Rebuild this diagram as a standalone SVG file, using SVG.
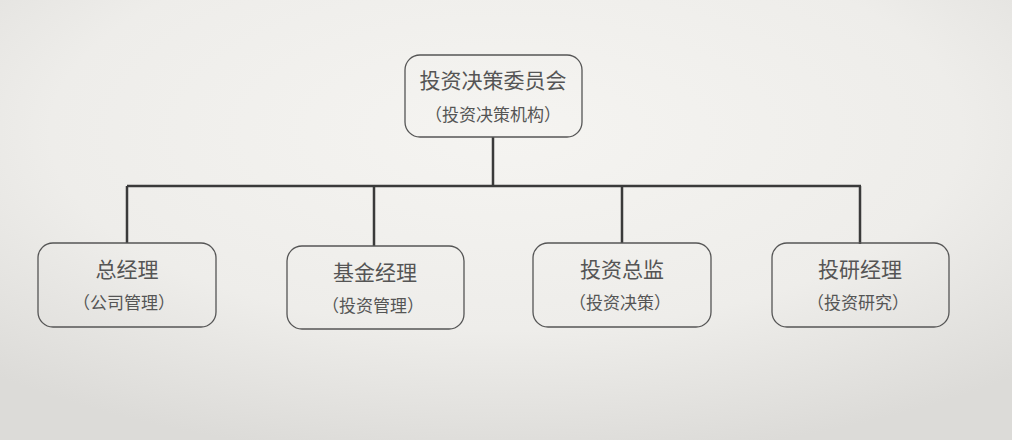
<svg xmlns="http://www.w3.org/2000/svg" width="1012" height="440" viewBox="0 0 1012 440">
<defs>
<radialGradient id="bg" cx="0.5" cy="0.3" r="0.75">
<stop offset="0" stop-color="#f5f4f1"/>
<stop offset="0.6" stop-color="#eeedea"/>
<stop offset="1" stop-color="#dcdbd8"/>
</radialGradient>
</defs>
<style>
.box{fill:none;stroke:#555;stroke-width:1.3}
.t{font-family:"Noto Sans CJK SC","Noto Sans CJK TC",sans-serif;fill:#555;text-anchor:middle}
.h{font-size:21px}
.s{font-size:17px}
.c{fill:none;stroke:#3a3a3a;stroke-width:2.5}
</style>
<rect width="1012" height="440" fill="url(#bg)"/>
<g id="connectors">
<path class="c" d="M493 137V186M127 186H861M127 186V243M374 186V246M622 186V243M860 186V244"/>
</g>
<g id="top">
<rect class="box" x="405" y="55" width="177" height="82" rx="15"/>
<text class="t h" x="493" y="88">投资决策委员会</text>
<text class="t s" x="493" y="121">（投资决策机构）</text>
</g>
<g id="n1">
<rect class="box" x="38" y="243" width="178" height="84" rx="15"/>
<text class="t h" x="127" y="277">总经理</text>
<text class="t s" x="124" y="309">（公司管理）</text>
</g>
<g id="n2">
<rect class="box" x="287" y="246" width="177" height="83" rx="15"/>
<text class="t h" x="375" y="280">基金经理</text>
<text class="t s" x="373" y="312">（投资管理）</text>
</g>
<g id="n3">
<rect class="box" x="533" y="243" width="178" height="84" rx="15"/>
<text class="t h" x="622" y="277">投资总监</text>
<text class="t s" x="620" y="309">（投资决策）</text>
</g>
<g id="n4">
<rect class="box" x="772" y="243" width="177" height="84" rx="15"/>
<text class="t h" x="860" y="277">投研经理</text>
<text class="t s" x="858" y="309">（投资研究）</text>
</g>
</svg>
